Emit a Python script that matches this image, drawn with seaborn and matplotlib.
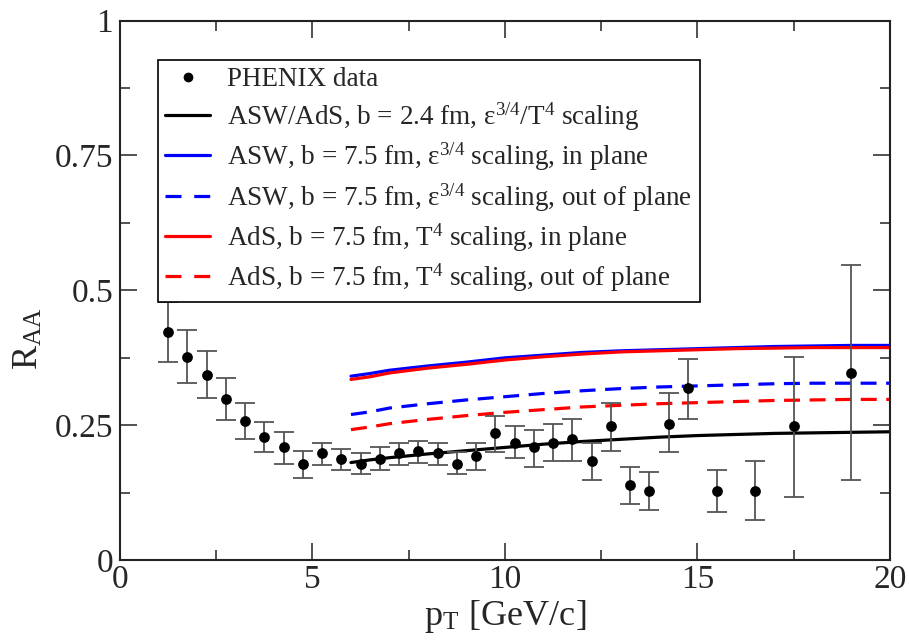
import numpy as np
import pandas as pd
import matplotlib
matplotlib.use("Agg")
import matplotlib.pyplot as plt
from matplotlib.lines import Line2D
from matplotlib import ticker
import seaborn as sns

# PHENIX data (pT, RAA, error bar low, error bar high)
pt_data = [1.25, 1.75, 2.25, 2.75, 3.25, 3.75, 4.25, 4.75, 5.25, 5.75,
           6.25, 6.75, 7.25, 7.75, 8.25, 8.75, 9.25, 9.75, 10.25, 10.75,
           11.25, 11.75, 12.25, 12.75, 13.25, 13.75, 14.25, 14.75, 15.5, 16.5,
           17.5, 19.0]
raa_data = [0.422, 0.377, 0.344, 0.298, 0.258, 0.228, 0.209, 0.179, 0.198, 0.188,
            0.179, 0.188, 0.198, 0.203, 0.198, 0.179, 0.194, 0.235, 0.218, 0.209,
            0.218, 0.224, 0.183, 0.248, 0.139, 0.129, 0.253, 0.320, 0.129, 0.129,
            0.248, 0.347]
err_lo = [0.368, 0.329, 0.300, 0.259, 0.224, 0.200, 0.179, 0.153, 0.177, 0.168,
          0.159, 0.168, 0.177, 0.181, 0.177, 0.159, 0.168, 0.200, 0.189, 0.172,
          0.183, 0.183, 0.148, 0.203, 0.104, 0.094, 0.200, 0.262, 0.089, 0.074,
          0.118, 0.148]
err_hi = [0.478, 0.427, 0.388, 0.338, 0.292, 0.257, 0.237, 0.203, 0.218, 0.207,
          0.198, 0.209, 0.218, 0.220, 0.218, 0.200, 0.218, 0.268, 0.248, 0.242,
          0.253, 0.262, 0.218, 0.292, 0.172, 0.163, 0.309, 0.373, 0.168, 0.183,
          0.377, 0.547]

# model curves
pt_model = [6, 6.5, 7, 8, 9, 10, 11, 12, 13, 14, 15, 16, 17, 18, 19, 20]
asw_ads_central = [0.181, 0.186, 0.190, 0.197, 0.203, 0.209, 0.215, 0.220, 0.224,
                   0.228, 0.231, 0.233, 0.235, 0.236, 0.237, 0.238]
asw_in = [0.341, 0.346, 0.352, 0.360, 0.367, 0.375, 0.380, 0.385, 0.388,
          0.390, 0.392, 0.394, 0.396, 0.397, 0.398, 0.398]
asw_out = [0.270, 0.275, 0.282, 0.290, 0.297, 0.303, 0.309, 0.314, 0.318,
           0.321, 0.323, 0.325, 0.327, 0.328, 0.328, 0.328]
ads_in = [0.335, 0.340, 0.347, 0.356, 0.363, 0.371, 0.377, 0.382, 0.386,
          0.388, 0.390, 0.392, 0.393, 0.394, 0.394, 0.394]
ads_out = [0.242, 0.247, 0.253, 0.261, 0.268, 0.274, 0.279, 0.284, 0.287,
           0.290, 0.292, 0.294, 0.296, 0.297, 0.298, 0.298]

labels = [
    'PHENIX data',
    r'ASW/AdS, b = 2.4 fm, $\mathregular{\varepsilon^{3/4}/T^{4}}$ scaling',
    r'ASW, b = 7.5 fm, $\mathregular{\varepsilon^{3/4}}$ scaling, in plane',
    r'ASW, b = 7.5 fm, $\mathregular{\varepsilon^{3/4}}$ scaling, out of plane',
    r'AdS, b = 7.5 fm, $\mathregular{T^{4}}$ scaling, in plane',
    r'AdS, b = 7.5 fm, $\mathregular{T^{4}}$ scaling, out of plane',
]

sns.set_theme(style="ticks")
plt.rcParams['font.family'] = ['Liberation Serif', 'DejaVu Serif']
plt.rcParams['mathtext.fontset'] = 'stix'

data = pd.DataFrame({'pt': pt_data, 'raa': raa_data})
curves = pd.DataFrame({'pt': pt_model, 'central': asw_ads_central,
                       'asw_in': asw_in, 'asw_out': asw_out,
                       'ads_in': ads_in, 'ads_out': ads_out})

fig = plt.figure(figsize=(9.09, 6.41), dpi=100)
ax = fig.add_axes([0.132, 0.126, 0.847, 0.842])

lw = 2.3
dash = (5, 3)
sns.lineplot(data=curves, x='pt', y='central', color='black', lw=lw, ax=ax)
sns.lineplot(data=curves, x='pt', y='asw_in', color='#0000ff', lw=lw, ax=ax)
sns.lineplot(data=curves, x='pt', y='ads_in', color='#ff0000', lw=lw, ax=ax)
ax.plot(curves['pt'], curves['asw_out'], color='#0000ff', lw=lw, dashes=dash)
ax.plot(curves['pt'], curves['ads_out'], color='#ff0000', lw=lw, dashes=dash)

yerr = [np.array(raa_data) - np.array(err_lo), np.array(err_hi) - np.array(raa_data)]
ax.errorbar(pt_data, raa_data, yerr=yerr, fmt='none', ecolor='#555555',
            elinewidth=1.3, capsize=7, capthick=1.3)
sns.scatterplot(data=data, x='pt', y='raa', color='black', s=60,
                edgecolor='black', linewidth=0, zorder=5, ax=ax)

ax.set_xlim(0, 20)
ax.set_ylim(0, 1)
ax.xaxis.set_major_locator(ticker.MultipleLocator(5))
ax.xaxis.set_minor_locator(ticker.MultipleLocator(2.5))
ax.yaxis.set_major_locator(ticker.FixedLocator([0, 0.25, 0.5, 0.75, 1]))
ax.yaxis.set_minor_locator(ticker.MultipleLocator(0.125))
ax.yaxis.set_major_formatter(ticker.FuncFormatter(lambda v, p: f'{v:g}'))
ax.tick_params(which='both', direction='in', top=True, right=True,
               labelsize=24, color='#333333', width=1.2)
ax.tick_params(which='major', length=12)
ax.tick_params(axis='x', which='major', pad=3)
ax.tick_params(axis='y', which='major', pad=5)
ax.tick_params(which='minor', length=7)
for s in ax.spines.values():
    s.set_linewidth(1.5)
    s.set_color('#222222')

ax.set_xlabel(r'p$_\mathregular{T}$ [GeV/c]', fontsize=26, labelpad=2)
ax.set_ylabel(r'R$_\mathregular{AA}$', fontsize=26, labelpad=0)
ax.yaxis.set_label_coords(-0.097, 0.41)

handles = [
    Line2D([], [], marker='o', ls='none', color='black', markersize=6),
    Line2D([], [], color='black', lw=lw),
    Line2D([], [], color='#0000ff', lw=lw),
    Line2D([], [], color='#0000ff', lw=lw, dashes=(5, 4)),
    Line2D([], [], color='#ff0000', lw=lw),
    Line2D([], [], color='#ff0000', lw=lw, dashes=(5, 4)),
]
leg = ax.legend(handles, labels, loc='upper left', bbox_to_anchor=(0.049, 0.927),
                fontsize=19.5, frameon=True, fancybox=False, edgecolor='black',
                framealpha=1, handlelength=1.66, handletextpad=0.63,
                labelspacing=0.29, borderpad=0.28, borderaxespad=0)
leg.get_frame().set_linewidth(1.2)

fig.savefig('out.png', dpi=100)
